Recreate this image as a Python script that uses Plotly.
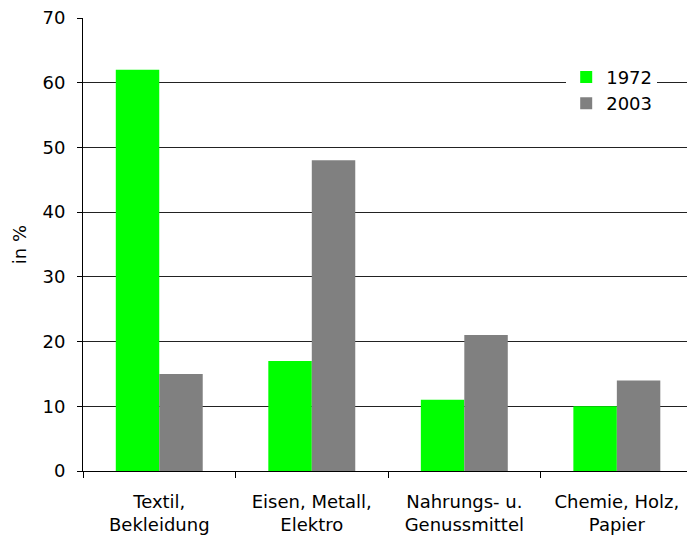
import plotly.graph_objects as go

categories = ["Textil,<br>Bekleidung", "Eisen, Metall,<br>Elektro", "Nahrungs- u.<br>Genussmittel", "Chemie, Holz,<br>Papier"]
values_1972 = [62, 17, 11, 10]
values_2003 = [15, 48, 21, 14]
font = "DejaVu Sans, Verdana, sans-serif"

fig = go.Figure()
fig.add_trace(go.Bar(name="1972", x=categories, y=values_1972, marker=dict(color="#00FF00", line=dict(width=0))))
fig.add_trace(go.Bar(name="2003", x=categories, y=values_2003, marker=dict(color="#808080", line=dict(width=0))))

fig.update_layout(
    width=687, height=540,
    margin=dict(l=83, r=0, t=18, b=69),
    paper_bgcolor="white", plot_bgcolor="white",
    font=dict(family=font, size=18, color="black"),
    barmode="group", bargap=0.43, bargroupgap=0,
    legend=dict(x=0.8, y=0.91, xanchor="left", yanchor="top", bgcolor="white",
                font=dict(size=18), itemwidth=30, tracegroupgap=4),
    xaxis=dict(range=[-0.5, 3.46], showline=True, linecolor="black", linewidth=1,
               ticks="outside", tickson="boundaries", ticklen=6, tickcolor="black",
               showgrid=False, ticklabelstandoff=14),
    yaxis=dict(range=[0, 70], dtick=10, showline=True, linecolor="black", linewidth=1,
               ticks="outside", ticklen=5, tickcolor="black", showgrid=True,
               gridcolor="#222222", gridwidth=1, zeroline=False, ticklabelstandoff=8,
               title=dict(text="in %", standoff=11, font=dict(size=18))),
)

fig.write_html("out.html")
